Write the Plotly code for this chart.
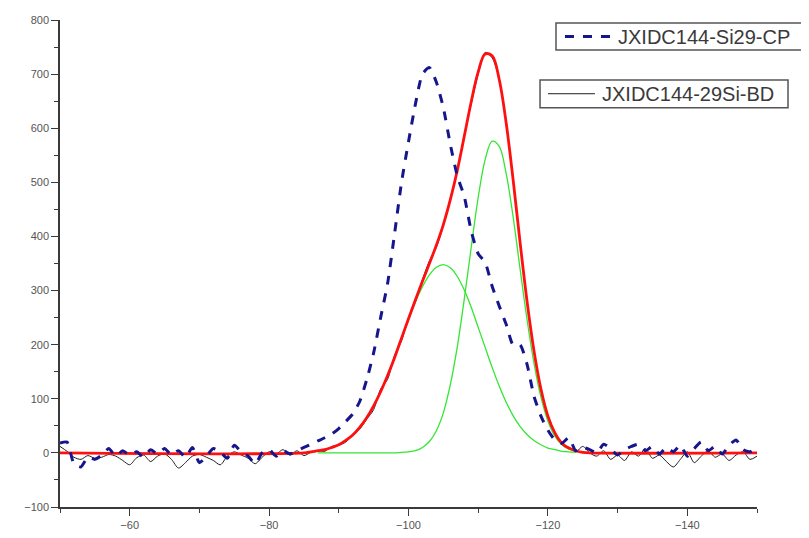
import plotly.graph_objects as go

# ---------------- data ----------------
# measured spectra on a 1 ppm grid (-50 ... -150)
x_data = list(range(-50, -151, -1))

bd_values = [
    12, 3, -8, -12, -5, -10, -8, -3, -6, -14,      # -50 .. -59
    -22, -9, -4, -16, -6, -2, -12, -28, -18, -6,   # -60 .. -69
    -3, -8, -14, -22, -6, 2, -4, -10, -20, -8,     # -70 .. -79
    2, -2, 6, -4, 4, -5, 1, 4, 3, 12,              # -80 .. -89
    14, 20, 33, 44, 62, 80, 118, 136, 180, 207,    # -90 .. -99
    250, 280, 320, 355, 380, 420, 470, 520, 588, 645,  # -100 .. -109
    700, 740, 730, 692, 612, 505, 392, 280, 190, 118,  # -110 .. -119
    70, 38, 16, 10, 2, 12, 0, -6, 4, -12,          # -120 .. -129
    -4, -14, 2, -6, 8, -10, -4, -16, -26, -12,     # -130 .. -139
    2, -18, -6, 4, -8, -2, -14, -4, 2, -12,        # -140 .. -149
    -6,                                            # -150
]

cp_values = [
    18, 20, -20, -26, -8, -12, -4, 8, -6, 4,       # -50 .. -59
    -4, 2, -8, 6, -2, 8, -4, 4, -8, 10,            # -60 .. -69
    -18, -6, 8, 2, -10, 14, 2, -6, -20, 0,         # -70 .. -79
    6, -6, 4, -2, 4, 10, 16, 22, 28, 35,           # -80 .. -89
    45, 58, 72, 95, 135, 185, 250, 313, 405, 500,  # -90 .. -99
    575, 645, 700, 712, 685, 638, 570, 512, 474, 410,  # -100 .. -109
    368, 352, 308, 272, 238, 200, 200, 164, 105, 68,   # -110 .. -119
    42, 24, 18, 28, 4, 10, 6, 0, 16, 8,            # -120 .. -129
    -4, 6, 12, 16, 4, 12, -2, 10, 2, 14,           # -130 .. -139
    -6, 8, 20, 4, 12, -2, 14, 24, 6, 2,            # -140 .. -149
    10,                                            # -150
]

# fitted components (green) and total fit (red)
x_comp = list(range(-87, -125, -1))  # -87 .. -124
comp1 = [4, 6, 10, 15, 23, 33, 47, 65, 87, 113,      # -87 .. -96
         143, 176, 211, 246, 279, 307, 329, 343, 348, 342,  # -97 .. -106
         326, 301, 269, 232, 195, 158, 124, 94, 69, 49,     # -107 .. -116
         34, 23, 15, 9, 6, 3, 2, 1]                         # -117 .. -124
comp2 = [0, 0, 0, 0, 0, 0, 0, 0, 0, 0,
         0, 0, 1, 2, 4, 10, 21, 41, 74, 126,
         196, 284, 380, 472, 542, 576, 567, 517, 437, 341,
         247, 166, 103, 59, 31, 15, 7, 3]

x_fit = [-50, -85, -86] + x_comp + [-125, -126, -150]
fit_values = [0, 0, 2, 4, 6, 10, 15, 23, 33, 47, 65, 87, 113,
              143, 176, 212, 248, 283, 317, 350, 384, 422, 468,
              522, 585, 649, 704, 737, 734, 691, 611, 506, 390,
              281, 189, 118, 68, 37, 18, 9, 4, 1, 0, 0]

name_cp = "JXIDC144-Si29-CP"
name_bd = "JXIDC144-29Si-BD"

color_cp = "#16168c"
color_bd = "#1e1e1e"

# ---------------- figure ----------------
fig = go.Figure()

fig.add_trace(go.Scatter(x=x_data, y=bd_values, mode="lines", name=name_bd, showlegend=False,
                         line=dict(color=color_bd, width=1, shape="spline", smoothing=0.8)))
fig.add_trace(go.Scatter(x=x_comp, y=comp1, mode="lines", showlegend=False,
                         line=dict(color="#33e633", width=1.3, shape="spline")))
fig.add_trace(go.Scatter(x=x_comp, y=comp2, mode="lines", showlegend=False,
                         line=dict(color="#33e633", width=1.3, shape="spline")))
fig.add_trace(go.Scatter(x=x_fit, y=fit_values, mode="lines", showlegend=False,
                         line=dict(color="#ff1010", width=2.8, shape="spline", smoothing=1.0)))
fig.add_trace(go.Scatter(x=x_data, y=cp_values, mode="lines", name=name_cp, showlegend=False,
                         line=dict(color=color_cp, width=3, dash="dash", shape="spline",
                                   smoothing=0.6)))

axis_font = dict(family="Liberation Sans, Arial, sans-serif", size=11, color="#555555")
legend_font = dict(family="Liberation Sans, Arial, sans-serif", size=20, color="#3a3a3a")

# legend boxes (drawn in paper coordinates)
shapes = [
    dict(type="rect", xref="paper", yref="paper", x0=0.7116, x1=1.085, y0=0.9384, y1=0.9938,
         line=dict(color="#555555", width=1.5), fillcolor="white", layer="above"),
    dict(type="line", xref="paper", yref="paper", x0=0.7245, x1=0.7975, y0=0.9661, y1=0.9661,
         line=dict(color=color_cp, width=3, dash="9px,9px"), layer="above"),
    dict(type="rect", xref="paper", yref="paper", x0=0.6887, x1=1.0445, y0=0.8196, y1=0.8768,
         line=dict(color="#555555", width=1.5), fillcolor="white", layer="above"),
    dict(type="line", xref="paper", yref="paper", x0=0.7001, x1=0.7675, y0=0.8486, y1=0.8486,
         line=dict(color=color_bd, width=1), layer="above"),
]
annotations = [
    dict(text=name_cp, xref="paper", yref="paper", x=0.7975, y=0.9661, xanchor="left",
         yanchor="middle", showarrow=False, font=legend_font),
    dict(text=name_bd, xref="paper", yref="paper", x=0.7745, y=0.8486, xanchor="left",
         yanchor="middle", showarrow=False, font=legend_font),
]

# the page body adds an 8 px offset, so the figure is 8 px smaller than the window
fig.update_layout(
    width=801, height=530,
    margin=dict(l=52, r=52, t=12, b=31, autoexpand=False),
    plot_bgcolor="white", paper_bgcolor="white",
    showlegend=False,
    shapes=shapes, annotations=annotations,
    xaxis=dict(range=[-50, -150], tick0=-60, dtick=20, ticks="outside", ticklen=7,
               tickcolor="#3a3a3a", tickwidth=1.3, showline=True, linecolor="#3a3a3a",
               linewidth=1.5, showgrid=False, zeroline=False, tickfont=axis_font,
               minor=dict(tick0=-50, dtick=10, ticks="outside", ticklen=4,
                          tickcolor="#3a3a3a", tickwidth=1.3, showgrid=False)),
    yaxis=dict(range=[-100, 800], tick0=0, dtick=100, ticks="outside", ticklen=7,
               tickcolor="#3a3a3a", tickwidth=1.3, showline=True, linecolor="#3a3a3a",
               linewidth=1.5, showgrid=False, zeroline=False, tickfont=axis_font,
               minor=dict(tick0=0, dtick=50, ticks="outside", ticklen=4,
                          tickcolor="#3a3a3a", tickwidth=1.3, showgrid=False)),
)

fig.write_html("out.html")
